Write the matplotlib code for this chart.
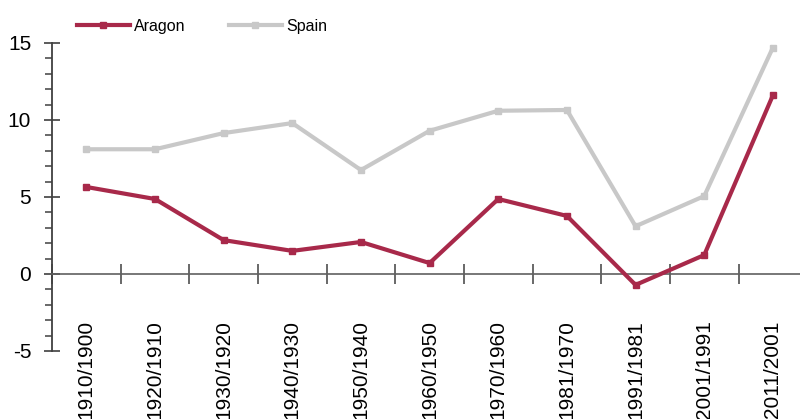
import numpy as np
import matplotlib
matplotlib.use('Agg')
import matplotlib.pyplot as plt
from matplotlib.ticker import MultipleLocator

periods = ['1910/1900', '1920/1910', '1930/1920', '1940/1930', '1950/1940',
           '1960/1950', '1970/1960', '1981/1970', '1991/1981', '2001/1991',
           '2011/2001']
aragon = [5.65, 4.87, 2.2, 1.5, 2.08, 0.71, 4.87, 3.77, -0.71, 1.23, 11.6]
spain = [8.1, 8.1, 9.15, 9.8, 6.75, 9.3, 10.6, 10.65, 3.1, 5.06, 14.7]

plt.rcParams['font.family'] = ['Liberation Sans', 'DejaVu Sans']
plt.rcParams['axes.unicode_minus'] = False

fig = plt.figure(figsize=(8, 4.19), dpi=100)
ax = fig.add_axes([0.065, 0.1623, 0.944, 0.7351])

x = np.arange(len(periods))
ax.plot(x, aragon, color='#A8294A', lw=3, marker='s', ms=5, label='Aragon',
        solid_joinstyle='miter', zorder=3)
ax.plot(x, spain, color='#C8C8C8', lw=3, marker='s', ms=5, label='Spain',
        solid_joinstyle='miter', zorder=2)

ax.set_xlim(-0.5, len(periods) - 0.5)
ax.set_ylim(-5, 15)

for s in ['top', 'right']:
    ax.spines[s].set_visible(False)
ax.spines['bottom'].set_position(('data', 0))
ax.spines['bottom'].set_color('#606060')
ax.spines['bottom'].set_linewidth(1.2)
ax.spines['left'].set_color('#404040')
ax.spines['left'].set_linewidth(1.3)

ax.yaxis.set_major_locator(MultipleLocator(5))
ax.yaxis.set_minor_locator(MultipleLocator(1))
ax.tick_params(axis='y', which='major', direction='inout', length=12,
               width=1.2, labelsize=15, pad=9, color='#404040')
ax.tick_params(axis='y', which='minor', direction='out', length=5, width=1.1,
               color='#404040')

# category boundaries as ticks, labels as text below
ax.set_xticks(np.arange(len(periods) + 1) - 0.5)
ax.set_xticklabels([])
ax.tick_params(axis='x', direction='inout', length=14, width=1.1, color='#404040')
for i, p in enumerate(periods):
    ax.text(i, -3.0, p, rotation=90, ha='center', va='top', fontsize=15,
            clip_on=False)

ax.legend(loc='upper left', bbox_to_anchor=(0.014, 1.125), ncol=2, frameon=False,
          fontsize=11.5, handlelength=3.3, columnspacing=2.7, handletextpad=0.3)

plt.savefig('out.png', dpi=100)
plt.close()
